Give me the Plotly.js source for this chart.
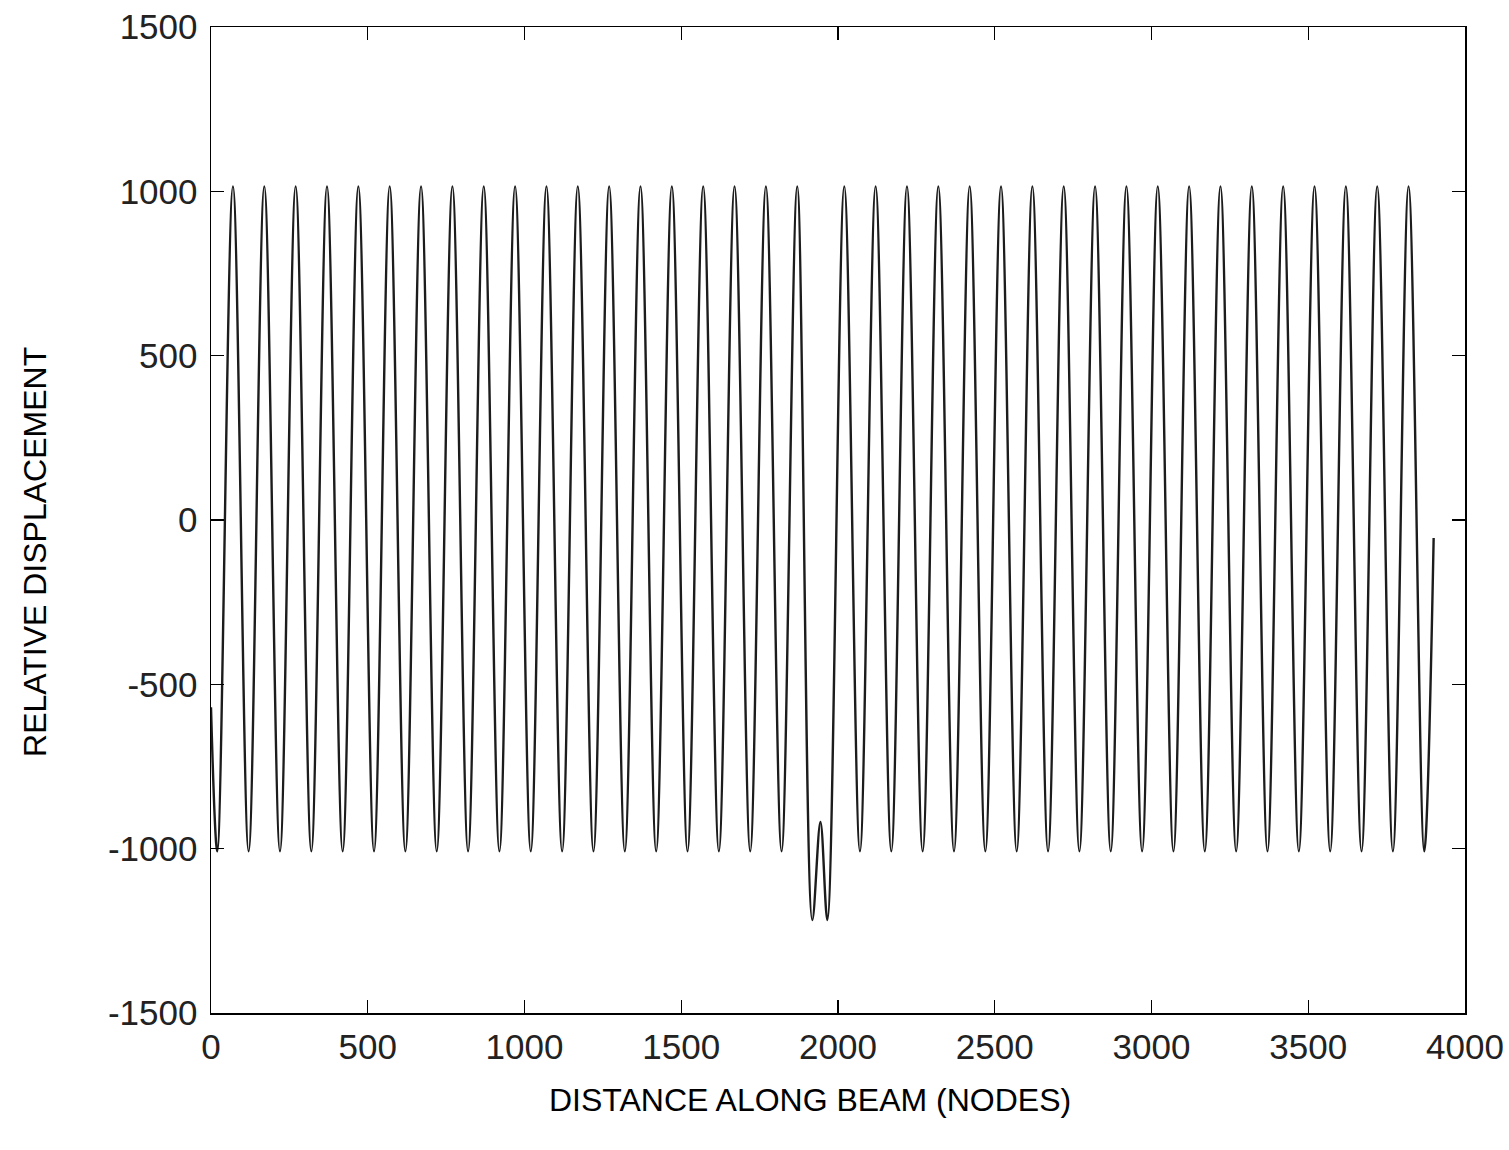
<!DOCTYPE html>
<html>
<head>
<meta charset="utf-8">
<script src="https://cdn.plot.ly/plotly-3.0.1.min.js"></script>
<style>
  html, body { margin: 0; padding: 0; background: #ffffff; }
  #chart { width: 1509px; height: 1150px; }
</style>
</head>
<body>
<div id="chart"></div>
<script>
// Turning points of the displacement trace (node, value)
const nodes = [
  0, 20,
  70, 120, 170, 220, 270, 320, 370, 420, 470, 520,
  570, 620, 670, 720, 770, 820, 870, 920, 970, 1020,
  1070, 1120, 1170, 1220, 1270, 1320, 1370, 1420, 1470, 1520,
  1570, 1620, 1670, 1720, 1770, 1820, 1870,
  1918, 1944, 1966,
  2020, 2070, 2120, 2170, 2220, 2270, 2320, 2370, 2420, 2470,
  2520, 2570, 2620, 2670, 2720, 2770, 2820, 2870, 2920, 2970,
  3020, 3070, 3120, 3170, 3220, 3270, 3320, 3370, 3420, 3470,
  3520, 3570, 3620, 3670, 3720, 3770, 3820, 3870, 3900
];
const displacement = [
  -570, -1008,
  1015, -1008, 1015, -1008, 1015, -1008, 1015, -1008, 1015, -1008,
  1015, -1008, 1015, -1008, 1015, -1008, 1015, -1008, 1015, -1008,
  1015, -1008, 1015, -1008, 1015, -1008, 1015, -1008, 1015, -1008,
  1015, -1008, 1015, -1008, 1015, -1008, 1015,
  -1217, -919, -1217,
  1015, -1008, 1015, -1008, 1015, -1008, 1015, -1008, 1015, -1008,
  1015, -1008, 1015, -1008, 1015, -1008, 1015, -1008, 1015, -1008,
  1015, -1008, 1015, -1008, 1015, -1008, 1015, -1008, 1015, -1008,
  1015, -1008, 1015, -1008, 1015, -1008, 1015, -1008, -55
];
const xTicks = [0, 500, 1000, 1500, 2000, 2500, 3000, 3500, 4000];
const yTicks = [-1500, -1000, -500, 0, 500, 1000, 1500];
const xTitle = 'DISTANCE ALONG BEAM (NODES)';
const yTitle = 'RELATIVE DISPLACEMENT';

const trace = {
  x: nodes,
  y: displacement,
  type: 'scatter',
  mode: 'lines',
  line: { color: '#1c1c1c', width: 2.4, shape: 'spline', smoothing: 1 },
  hoverinfo: 'x+y',
  showlegend: false
};

const fontFamily = 'Liberation Sans, Arial, sans-serif';

const axisCommon = {
  showgrid: false,
  zeroline: false,
  showline: true,
  linecolor: '#000000',
  linewidth: 1.5,
  mirror: 'ticks',
  ticks: 'inside',
  ticklen: 13,
  tickwidth: 1.3,
  tickcolor: '#000000',
  tickfont: { family: fontFamily, size: 35, color: '#222222' },
  automargin: false
};

const layout = {
  width: 1509,
  height: 1150,
  paper_bgcolor: '#ffffff',
  plot_bgcolor: '#ffffff',
  margin: { l: 211, r: 44, t: 27, b: 137 },
  xaxis: Object.assign({}, axisCommon, {
    range: [0, 4000],
    tickmode: 'array',
    tickvals: xTicks,
    ticktext: xTicks.map(String),
    ticklabelstandoff: 2
  }),
  yaxis: Object.assign({}, axisCommon, {
    range: [-1500, 1500],
    tickmode: 'array',
    tickvals: yTicks,
    ticktext: yTicks.map(String),
    ticklabelstandoff: 5
  }),
  annotations: [
    {
      text: xTitle,
      xref: 'paper', yref: 'paper',
      x: 0.4777, y: -0.0882,
      xanchor: 'center', yanchor: 'middle',
      showarrow: false,
      font: { family: fontFamily, size: 32, color: '#000000' }
    },
    {
      text: yTitle,
      xref: 'paper', yref: 'paper',
      x: -0.1404, y: 0.4675,
      xanchor: 'center', yanchor: 'middle',
      textangle: -90,
      showarrow: false,
      font: { family: fontFamily, size: 32, color: '#000000' }
    }
  ]
};

Plotly.newPlot('chart', [trace], layout, { staticPlot: true, displayModeBar: false });
</script>
</body>
</html>
